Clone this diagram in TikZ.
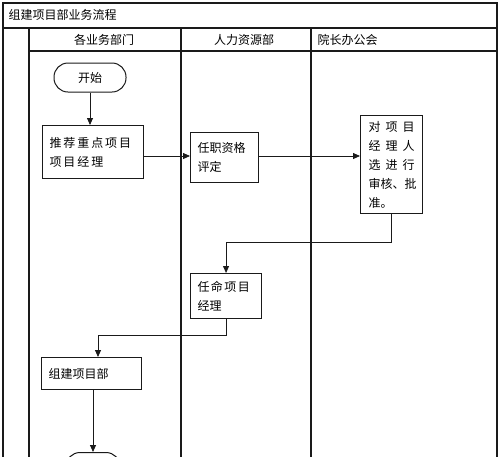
\documentclass[tikz,border=0pt]{standalone}
\usepackage{fontspec}
\setmainfont{Noto Sans CJK SC}
\usetikzlibrary{arrows.meta,positioning,calc}
\definecolor{ink}{HTML}{1A1A1A}
\newcommand{\jline}[3]{\makebox[46pt][s]{#1\hfill#2\hfill#3}}
\tikzset{lane/.style={line width=1.2pt,draw=ink},
  box/.style={draw=ink,line width=1.1pt,fill=white,align=left,anchor=north west,inner xsep=7pt,inner ysep=0pt},
  term/.style={draw=ink,line width=1pt,rounded corners=14pt,minimum width=72pt,minimum height=29pt,inner sep=0pt},
  flow/.style={draw=ink,line width=.8pt,-{Triangle[length=7pt,width=6pt]}}}

\begin{document}
\begin{tikzpicture}[x=1pt,y=-1pt,font=\fontsize{12}{19}\selectfont]
\useasboundingbox (0,0) rectangle (500,456);
\clip (0,0) rectangle (500,456);
% frame and lanes
\draw[lane] (3,470) -- (3,3) -- (497,3) -- (497,470);
\draw[lane] (3,28) -- (497,28) (29,51) -- (497,51);
\draw[lane] (29,28) -- (29,470) (181,28) -- (181,470) (311,28) -- (311,470);
\node[anchor=west] (title) at (5,15) {组建项目部业务流程};
\node (hbiz) at (104,40) {各业务部门};
\node (hhr) at (244,40) {人力资源部};
\node[anchor=west] (hboard) at (314,40) {院长办公会};
% steps
\node[term] (start) at (90,77.5) {开始};
\node[box,text width=87pt,minimum height=53pt] (recommend) at (42,125)
  {\addfontfeature{LetterSpace=16}推荐重点项目\\项目经理};
\node[box,text width=54pt,minimum height=50pt] (qualify) at (190,132) {任职资格\\评定};
\node[box,text width=46pt,inner xsep=8pt,minimum height=98pt] (approve) at (360,115)
  {\jline{对}{项}{目}\\\jline{经}{理}{人}\\\jline{选}{进}{行}\\审核、批\\准。};
\node[box,text width=57pt,minimum height=45pt] (appoint) at (190,273)
  {{\addfontfeature{LetterSpace=12}任命项目}\\经理};
\node[box,text width=86pt,minimum height=32pt] (build) at (41,357) {组建项目部};
\node[term,minimum width=54pt] (finish) at (93,467) {};
% connectors
\coordinate (bend1) at (0,242);
\coordinate (bend2) at (98,335);
\draw[flow] (start.south) -- (recommend.north -| start.south);
\draw[flow] (recommend.east |- 0,156) -- (qualify.west |- 0,156);
\draw[flow] (qualify.east |- 0,156) -- (approve.west |- 0,156);
\draw[flow] (approve.south) |- (bend1 -| appoint.north) -- (appoint.north);
\draw[flow] (appoint.south) |- (bend2) -- (bend2 |- build.north);
\draw[flow] (build.south -| finish.north) -- (finish.north);
\end{tikzpicture}
\end{document}
